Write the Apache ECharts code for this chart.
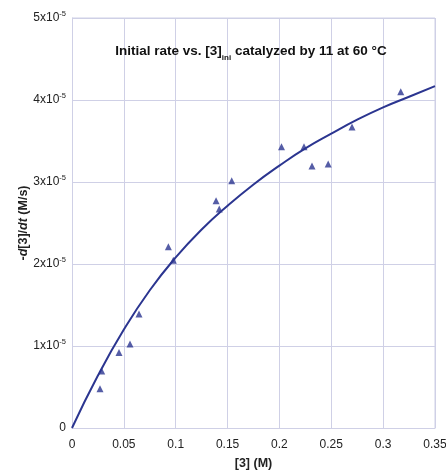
<!DOCTYPE html>
<html>
<head>
<meta charset="utf-8">
<script src="https://cdn.jsdelivr.net/npm/echarts@6/dist/echarts.min.js"></script>
<style>
  html, body { margin: 0; padding: 0; background: #fff; }
  #chart { width: 446px; height: 470px; }
</style>
</head>
<body>
<div id="chart"></div>
<script>
// measured points: [3] (M) and rate (M/s)
const concX = [0.027, 0.0286, 0.0453, 0.0559, 0.0646, 0.0929, 0.0977, 0.1389, 0.142, 0.154,
               0.202, 0.2237, 0.2314, 0.247, 0.270, 0.317];
const rateY = [0.48e-5, 0.695e-5, 0.92e-5, 1.025e-5, 1.39e-5, 2.21e-5, 2.045e-5, 2.77e-5, 2.67e-5, 3.015e-5,
               3.43e-5, 3.43e-5, 3.195e-5, 3.22e-5, 3.67e-5, 4.10e-5];
// fitted curve
const fitX = [0, 0.025, 0.05, 0.075, 0.1, 0.125, 0.15, 0.175, 0.2, 0.225, 0.25, 0.275, 0.3, 0.325, 0.35];
const fitY = [0, 0.64e-5, 1.2e-5, 1.68e-5, 2.08e-5, 2.42e-5, 2.71e-5, 2.97e-5, 3.2e-5, 3.41e-5, 3.59e-5,
              3.76e-5, 3.91e-5, 4.04e-5, 4.17e-5];
const xTicks = [0, 0.05, 0.1, 0.15, 0.2, 0.25, 0.3, 0.35];

let chart = echarts.init(document.getElementById('chart'));
const font = '"Liberation Sans", Arial, sans-serif';
const gridColor = '#cfd0e6';
const blue = '#2b3590';

let option = {
  animation: false,
  textStyle: { fontFamily: font },
  title: {
    text: '{b|Initial rate vs. [3]}{s|ini}{b| catalyzed by 11 at 60 °C}',
    left: 246,
    top: 36,
    textAlign: 'center',
    textStyle: {
      rich: {
        b: { fontFamily: font, fontSize: 13.5, fontWeight: 'bold', color: '#111' },
        s: { fontFamily: font, fontSize: 8, fontWeight: 'bold', color: '#111', padding: [13, 0, 0, 0] }
      }
    }
  },
  grid: { left: 72, right: 11, top: 18, bottom: 42, outerBoundsMode: 'none' },
  xAxis: {
    type: 'value',
    min: 0, max: 0.35, interval: 0.05,
    name: '[3] (M)',
    nameLocation: 'middle',
    nameGap: 29,
    nameMoveOverlap: false,
    nameTextStyle: { fontFamily: font, fontSize: 12.5, fontWeight: 'bold', color: '#222' },
    axisLine: { show: true, lineStyle: { color: gridColor } },
    axisTick: { show: false },
    axisLabel: {
      color: '#222', fontSize: 12, margin: 11, showMaxLabel: true,
      formatter: v => {
        const t = xTicks.find(k => Math.abs(k - v) < 1e-9);
        return t === undefined ? '' : String(t);
      }
    },
    splitLine: { show: true, lineStyle: { color: gridColor, width: 1 } }
  },
  yAxis: {
    type: 'value',
    min: 0, max: 5e-5, interval: 1e-5,
    name: '{n|-}{i|d}{n|[3]/}{i|dt}{n| (M/s)}',
    nameLocation: 'middle',
    nameGap: 42,
    nameRotate: 90,
    nameMoveOverlap: false,
    nameTextStyle: {
      rich: {
        n: { fontFamily: font, fontSize: 12.5, fontWeight: 'bold', color: '#222' },
        i: { fontFamily: font, fontSize: 12.5, fontWeight: 'bold', fontStyle: 'italic', color: '#222' }
      }
    },
    axisLine: { show: true, lineStyle: { color: gridColor } },
    axisTick: { show: false },
    axisLabel: {
      color: '#222', margin: 6,
      formatter: v => {
        const n = Math.round(v / 1e-5);
        return n === 0 ? '{m|0}' : '{m|' + n + 'x10}{p|-5}';
      },
      rich: {
        m: { fontFamily: font, fontSize: 12, color: '#222' },
        p: { fontFamily: font, fontSize: 7.5, color: '#222', padding: [0, 0, 8, 0] }
      }
    },
    splitLine: { show: true, lineStyle: { color: gridColor, width: 1 } }
  },
  series: [
    {
      type: 'line',
      data: fitX.map((x, i) => [x, fitY[i]]),
      smooth: true,
      showSymbol: false,
      lineStyle: { color: blue, width: 2 },
      z: 2
    },
    {
      type: 'scatter',
      data: concX.map((x, i) => [x, rateY[i]]),
      symbol: 'triangle',
      symbolSize: 7,
      itemStyle: { color: blue },
      z: 3
    }
  ]
};

chart.setOption(option);
// right and top border of the plot area
let p0 = chart.convertToPixel('grid', [0.35, 0]);
let p1 = chart.convertToPixel('grid', [0.35, 5e-5]);
chart.setOption({
  graphic: [{
    type: 'line',
    shape: { x1: p0[0], y1: p0[1], x2: p1[0], y2: p1[1] },
    style: { stroke: gridColor, lineWidth: 1 }
  }, {
    type: 'line',
    shape: { x1: 72, y1: p1[1], x2: p1[0], y2: p1[1] },
    style: { stroke: gridColor, lineWidth: 1 }
  }]
});
</script>
</body>
</html>
